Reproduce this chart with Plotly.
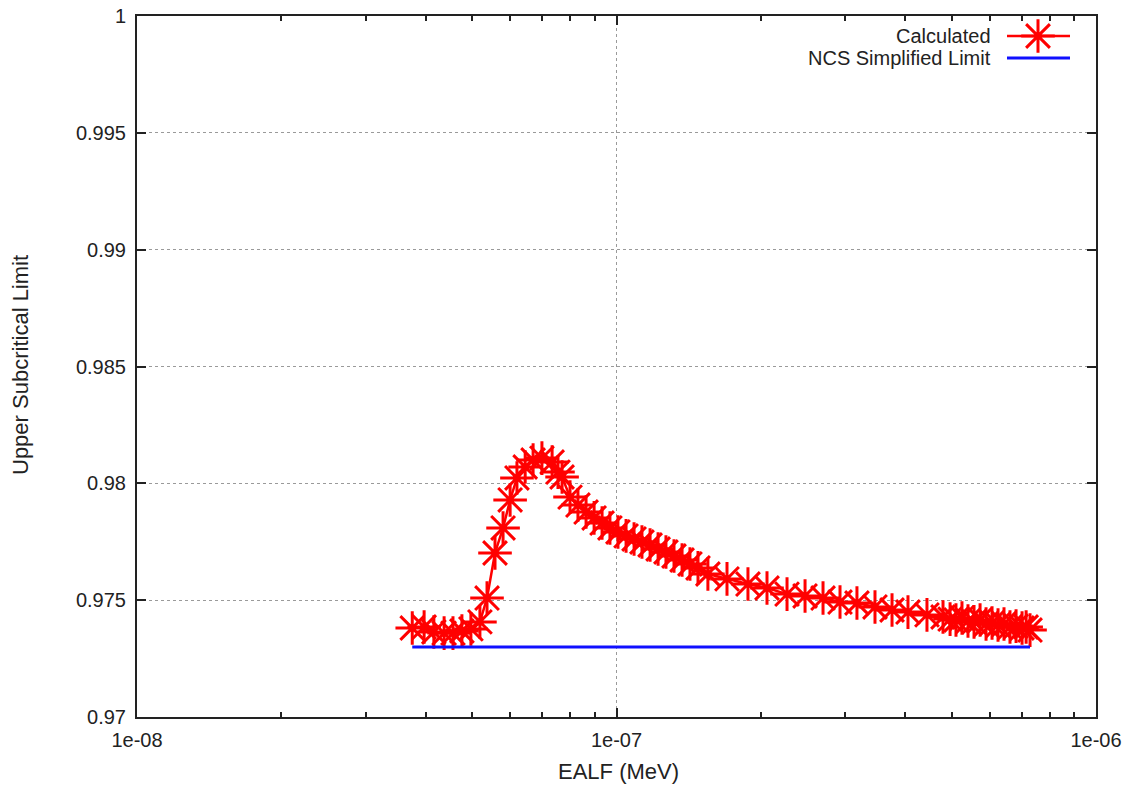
import plotly.graph_objects as go

# Calculated USL vs EALF (MeV)
calc_ealf = [3.75e-8, 3.97e-8, 4.16e-8, 4.37e-8, 4.56e-8, 4.76e-8, 4.97e-8, 5.19e-8,
             5.37e-8, 5.58e-8, 5.80e-8, 6.00e-8, 6.20e-8, 6.45e-8, 6.70e-8, 6.99e-8,
             7.34e-8, 7.55e-8, 7.70e-8,
             8.00e-8, 8.31e-8, 8.64e-8, 8.98e-8, 9.33e-8, 9.69e-8, 1.007e-7, 1.047e-7,
             1.088e-7, 1.130e-7, 1.175e-7, 1.221e-7, 1.268e-7, 1.318e-7, 1.370e-7,
             1.423e-7, 1.479e-7, 1.551e-7, 1.700e-7, 1.880e-7, 2.060e-7, 2.268e-7,
             2.473e-7, 2.696e-7, 2.925e-7, 3.173e-7, 3.460e-7, 3.755e-7, 4.054e-7,
             4.441e-7, 4.797e-7, 4.962e-7, 5.105e-7, 5.254e-7, 5.408e-7, 5.567e-7,
             5.731e-7, 5.898e-7, 6.070e-7, 6.247e-7, 6.429e-7, 6.616e-7, 6.812e-7,
             7.011e-7, 7.150e-7, 7.285e-7]
calc_usl = [0.97381, 0.97385, 0.97364, 0.97359, 0.97359, 0.97368, 0.97377, 0.97407,
            0.97509, 0.97702, 0.97809, 0.97929, 0.98023, 0.98070, 0.98100, 0.98108,
            0.98091, 0.98048, 0.98027,
            0.97941, 0.97907, 0.97877, 0.97852, 0.97830, 0.97809, 0.97792, 0.97775,
            0.97762, 0.97749, 0.97736, 0.97719, 0.97706, 0.97689, 0.97672,
            0.97655, 0.97638, 0.97612, 0.97591, 0.97569, 0.97552, 0.97526,
            0.97518, 0.97509, 0.97492, 0.97488, 0.97471, 0.97458, 0.97449,
            0.97437, 0.97428, 0.97419, 0.97415, 0.97424, 0.97411, 0.97407,
            0.97415, 0.97398, 0.97402, 0.97394, 0.97398, 0.97385, 0.97389,
            0.97381, 0.97385, 0.97372]

# NCS simplified limit
ncs_ealf = [3.75e-8, 7.285e-7]
ncs_usl = [0.973, 0.973]

y_ticks = [0.97, 0.975, 0.98, 0.985, 0.99, 0.995, 1.0]
y_labels = ["0.97", "0.975", "0.98", "0.985", "0.99", "0.995", "1"]
x_ticks = [1e-8, 1e-7, 1e-6]
x_labels = ["1e-08", "1e-07", "1e-06"]
x_minor = [k * 1e-8 for k in range(2, 10)] + [k * 1e-7 for k in range(2, 10)]

legend_names = ["Calculated", "NCS Simplified Limit"]

FONT = "Liberation Sans, Arial, sans-serif"
TXT = "#222"
RED = "#ff0000"
BLUE = "#1010ff"
STAR = dict(symbol="asterisk-open", size=28, color=RED, line=dict(color=RED, width=3))

fig = go.Figure()
fig.add_trace(go.Scatter(
    x=calc_ealf, y=calc_usl, mode="lines+markers", name=legend_names[0],
    line=dict(color=RED, width=2.5), marker=STAR, showlegend=False))
fig.add_trace(go.Scatter(
    x=ncs_ealf, y=ncs_usl, mode="lines", name=legend_names[1],
    line=dict(color=BLUE, width=3), showlegend=False))

# plot area in pixels
L, R, T, B = 137, 1096, 16, 717
W, H = R - L, B - T

def px(xp):
    return (xp - L) / W

def py(yp):
    return (B - yp) / H

# manual legend (text left of key, as in the reference)
leg_y = [py(36), py(58)]
for name, yy, col, lw in zip(legend_names, leg_y, [RED, BLUE], [2.5, 3]):
    fig.add_annotation(x=px(993), y=yy, xref="paper", yref="paper",
                       text=name, showarrow=False, xanchor="right", yanchor="middle",
                       font=dict(family=FONT, size=20, color=TXT))
    fig.add_shape(type="line", xref="paper", yref="paper", x0=px(1007), x1=px(1070),
                  y0=yy, y1=yy, line=dict(color=col, width=lw))
fig.add_trace(go.Scatter(
    x=[px(1038)], y=[leg_y[0]], mode="markers", xaxis="x2", yaxis="y2",
    marker=STAR, showlegend=False, hoverinfo="skip"))

# axis titles
fig.add_annotation(x=px(618), y=py(772), xref="paper", yref="paper",
                   text="EALF (MeV)", showarrow=False, xanchor="center", yanchor="middle",
                   font=dict(family=FONT, size=22, color=TXT))
fig.add_annotation(x=px(20), y=py(365), xref="paper", yref="paper",
                   text="Upper Subcritical Limit", showarrow=False, textangle=-90,
                   xanchor="center", yanchor="middle",
                   font=dict(family=FONT, size=22, color=TXT))

axis_common = dict(showline=True, linecolor=TXT, linewidth=2, mirror="ticks",
                   ticks="inside", tickcolor=TXT, tickwidth=1.5, ticklen=9,
                   showgrid=True, gridcolor="#9a9a9a", griddash="dot", gridwidth=1,
                   zeroline=False, automargin=False,
                   tickfont=dict(family=FONT, size=20, color=TXT))

fig.update_layout(
    width=1133, height=785,
    margin=dict(l=L, r=1133 - R, t=T, b=785 - B),
    paper_bgcolor="white", plot_bgcolor="white",
    showlegend=False,
    xaxis=dict(type="log", range=[-8, -6], tickmode="array", tickvals=x_ticks,
               ticktext=x_labels, ticklabelstandoff=4,
               minor=dict(tickmode="array", tickvals=x_minor, ticks="inside",
                          ticklen=5, tickcolor=TXT, showgrid=False),
               **axis_common),
    yaxis=dict(range=[0.97, 1.0], tickmode="array", tickvals=y_ticks, ticktext=y_labels,
               ticklabelstandoff=5,
               **axis_common),
    xaxis2=dict(overlaying="x", range=[0, 1], visible=False, fixedrange=True),
    yaxis2=dict(overlaying="y", range=[0, 1], visible=False, fixedrange=True),
)

fig.write_html("out.html")
